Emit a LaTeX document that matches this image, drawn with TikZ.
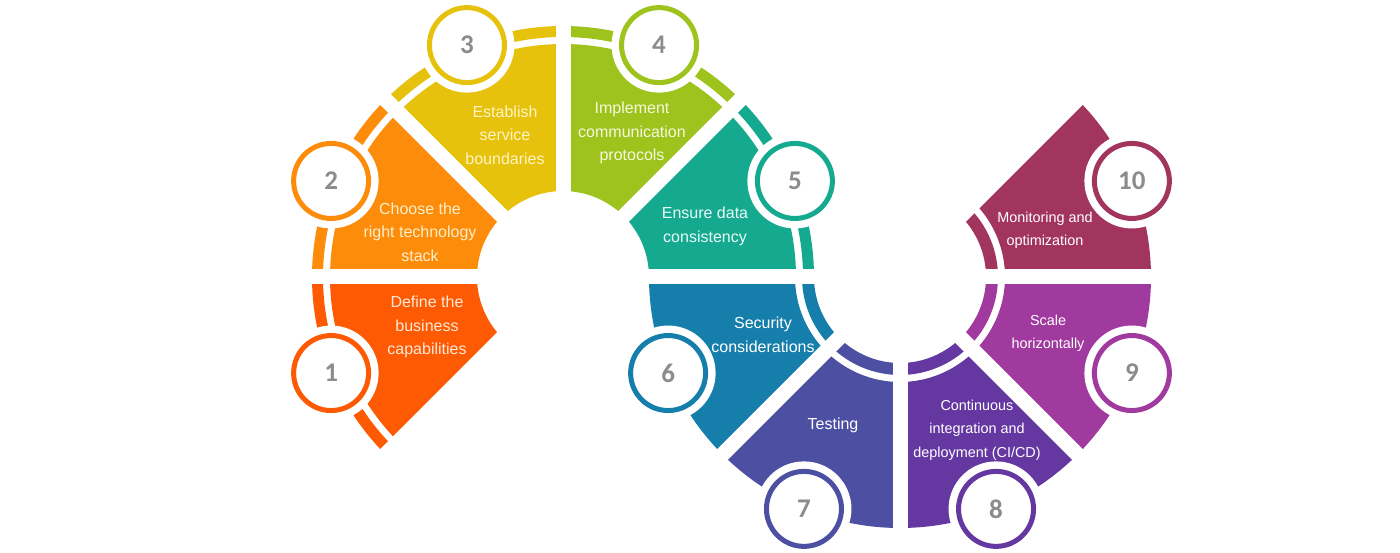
\documentclass[tikz,border=0pt]{standalone}
\usepackage{fontspec}
\setmainfont{Liberation Sans}
\newfontfamily\numfont{Carlito}
\usetikzlibrary{calc}
\definecolor{sa}{HTML}{FD5A03}
\definecolor{sb}{HTML}{FD8C0B}
\definecolor{sc}{HTML}{E6C20C}
\definecolor{sd}{HTML}{9EC31C}
\definecolor{se}{HTML}{15AA90}
\definecolor{sf}{HTML}{167EAB}
\definecolor{sg}{HTML}{4C4FA2}
\definecolor{sh}{HTML}{6538A1}
\definecolor{si}{HTML}{A03A9E}
\definecolor{sj}{HTML}{A2355E}
\definecolor{ta}{HTML}{FFE9D6}
\definecolor{tb}{HTML}{FFEFC8}
\definecolor{tc}{HTML}{FFF4C4}
\definecolor{td}{HTML}{F4FADF}
\definecolor{te}{HTML}{E8FAF6}
\definecolor{numgray}{HTML}{8C8C8C}
\definecolor{glowc}{HTML}{D3DBEF}
\pgfdeclareradialshading{badgeglow}{\pgfpointorigin}{color(0bp)=(white); color(26bp)=(white); color(50bp)=(glowc)}
\newcommand\annsec[6]{%
  \fill[#6] ($(#1)+(#2:#5)$) arc[start angle=#2, end angle=#3, radius=#5]
    -- ($(#1)+(#3:#4)$) arc[start angle=#3, end angle=#2, radius=#4] -- cycle;}
\tikzset{
  gapline/.style={white, line width=15pt},
  clearing/.style={circle, fill=white, minimum size=95pt, inner sep=0pt},
  badge/.style={circle, draw=#1, line width=5pt, minimum size=75pt, inner sep=0pt,
    shade, shading=badgeglow, text=numgray,
    font=\numfont\bfseries\fontsize{27}{27}\selectfont},
  lbl/.style={align=center, text=#1, font=\fontsize{16}{23.5}\selectfont},
  lbls/.style={align=center, text=#1, font=\fontsize{14.4}{23.3}\selectfont},
}
\begin{document}
\begin{tikzpicture}[x=1pt,y=1pt]
\useasboundingbox (0,0) rectangle (1400,552);
\coordinate (c1) at (563,275);
\coordinate (c2) at (900,275);
% ring 1 (segments 1-5)
\foreach \a/\b/\c in {180/225/sa, 135/180/sb, 90/135/sc, 45/90/sd, 0/45/se}{
  \annsec{c1}{\a}{\b}{86}{233}{\c}
  \annsec{c1}{\a}{\b}{240}{251}{\c}
}
% ring 2 (segments 6-10)
\foreach \a/\b/\c in {180/225/sf, 225/270/sg, 270/315/sh, 315/360/si, 360/405/sj}{
  \annsec{c2}{\a}{\b}{105}{251}{\c}
  \annsec{c2}{\a}{\b}{86}{98}{\c}
}
% radial gaps
\foreach \a in {0,45,90,135,180,225}
  \draw[gapline] ($(c1)+(\a:70)$) -- ($(c1)+(\a:268)$);
\foreach \a in {180,225,270,315,360,405}
  \draw[gapline] ($(c2)+(\a:70)$) -- ($(c2)+(\a:268)$);
% badges
\foreach \n/\a/\c in {1/202.5/sa, 2/157.5/sb, 3/112.5/sc, 4/67.5/sd, 5/22.5/se}{
  \node[clearing] (w\n) at ($(c1)+(\a:251)$) {};
  \node[badge=\c] (b\n) at ($(c1)+(\a:251)$) {\n};
}
\foreach \n/\a/\c in {6/202.5/sf, 7/247.5/sg, 8/292.5/sh, 9/337.5/si, 10/22.5/sj}{
  \node[clearing] (w\n) at ($(c2)+(\a:251)$) {};
  \node[badge=\c] (b\n) at ($(c2)+(\a:251)$) {\n};
}
% labels
\node[lbl=ta] (t1) at (427,225) {Define the\\business\\capabilities};
\node[lbl=tb] (t2) at (420,320) {Choose the\\right technology\\stack};
\node[lbl=tc] (t3) at (505,417) {Establish\\service\\boundaries};
\node[lbl=td] (t4) at (632,419) {Implement\\communication\\protocols};
\node[lbl=te] (t5) at (705,325.5) {Ensure data\\consistency};
\node[lbl=white] (t6) at (763,217) {Security\\considerations};
\node[lbl=white] (t7) at (833,127) {Testing};
\node[lbls=white] (t8) at (977,122) {Continuous\\integration and\\deployment (CI/CD)};
\node[lbls=white] (t9) at (1048,218.5) {Scale\\horizontally};
\node[lbls=white] (t10) at (1045,322) {Monitoring and\\optimization};
\end{tikzpicture}
\end{document}
